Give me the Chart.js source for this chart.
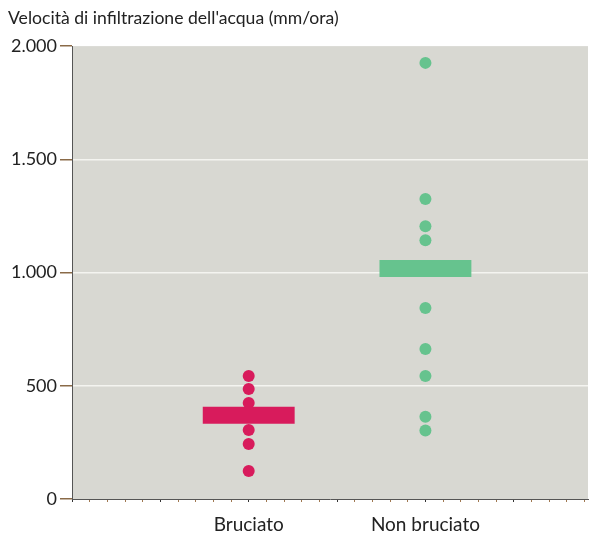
<!DOCTYPE html>
<html>
<head>
<meta charset="utf-8">
<script src="https://cdn.jsdelivr.net/npm/chart.js@4.4.0/dist/chart.umd.min.js"></script>
<style>
  html, body { margin: 0; padding: 0; background: #fff; }
  #wrap { width: 592px; height: 533px; }
</style>
</head>
<body>
<div id="wrap"><canvas id="chart" width="592" height="533"></canvas></div>
<script>
let groups = ['Bruciato', 'Non bruciato'];
let groupPos = [2, 4];
let bruciato = [543, 486, 424, 305, 243, 124];
let nonBruciato = [1926, 1325, 1205, 1143, 843, 662, 543, 363, 303];
let means = [370, 1018];
let yTicks = [0, 500, 1000, 1500, 2000];

let pink = '#d81b5c';
let green = '#66c38e';
let halfW = 0.52;

function fmt(v) {
  return String(v).replace(/\B(?=(\d{3})+(?!\d))/g, '.');
}

let plotBg = {
  id: 'plotBg',
  beforeDraw(chart) {
    let a = chart.chartArea;
    let c = chart.ctx;
    c.save();
    c.fillStyle = '#d8d8d2';
    c.fillRect(a.left, a.top, a.right - a.left, a.bottom - a.top);
    c.restore();
  }
};

let ctx = document.getElementById('chart').getContext('2d');

let myChart = new Chart(ctx, {
  type: 'scatter',
  data: {
    datasets: [
      {
        type: 'line',
        data: [{x: groupPos[0] - halfW, y: means[0]}, {x: groupPos[0] + halfW, y: means[0]}],
        borderColor: pink,
        borderWidth: 17,
        borderCapStyle: 'butt',
        pointRadius: 0
      },
      {
        type: 'line',
        data: [{x: groupPos[1] - halfW, y: means[1]}, {x: groupPos[1] + halfW, y: means[1]}],
        borderColor: green,
        borderWidth: 17,
        borderCapStyle: 'butt',
        pointRadius: 0
      },
      {
        data: bruciato.map(v => ({x: groupPos[0], y: v})),
        backgroundColor: pink,
        borderWidth: 0,
        pointRadius: 6
      },
      {
        data: nonBruciato.map(v => ({x: groupPos[1], y: v})),
        backgroundColor: green,
        borderWidth: 0,
        pointRadius: 6
      }
    ]
  },
  options: {
    responsive: false,
    animation: false,
    layout: { autoPadding: false, padding: { left: 8, right: 4, top: 0, bottom: 0 } },
    plugins: {
      legend: { display: false },
      tooltip: { enabled: false },
      title: {
        display: true,
        text: "Velocità di infiltrazione dell'acqua (mm/ora)",
        align: 'start',
        color: '#222',
        font: { family: 'Lato', size: 17.6, weight: 'normal' },
        padding: { top: 8, bottom: 17 }
      }
    },
    scales: {
      x: {
        type: 'linear',
        min: 0,
        max: 5.84,
        afterFit(s) { s.height = 34; s.paddingLeft = 0; s.paddingRight = 0; },
        afterBuildTicks(s) {
          let t = [];
          for (let i = 0; i <= 29; i++) t.push({value: i * 0.2});
          s.ticks = t;
        },
        border: { color: '#555', width: 1 },
        grid: {
          drawOnChartArea: false,
          tickLength: 3,
          tickColor: (c) => (Math.abs(c.tick.value - Math.round(c.tick.value)) < 1e-6 ? '#333' : '#a07850')
        },
        ticks: {
          autoSkip: false,
          maxRotation: 0,
          padding: 11,
          color: '#222',
          font: { family: 'Lato', size: 19 },
          callback: (v) => {
            for (let i = 0; i < groupPos.length; i++) {
              if (Math.abs(v - groupPos[i]) < 1e-6) return groups[i];
            }
            return '';
          }
        }
      },
      y: {
        min: 0,
        max: 2000,
        afterFit(s) { s.width = 64; },
        afterBuildTicks(s) { s.ticks = yTicks.map(v => ({value: v})); },
        border: { color: '#555', width: 1 },
        grid: {
          color: (c) => (c.tick.value === 0 || c.tick.value === 2000 ? 'rgba(0,0,0,0)' : '#f4f4f0'),
          lineWidth: 1.5,
          tickLength: 12,
          tickColor: '#8a6a48'
        },
        ticks: {
          padding: 3,
          color: '#222',
          font: { family: 'Lato', size: 18 },
          callback: (v) => fmt(v)
        }
      }
    }
  },
  plugins: [plotBg]
});
</script>
</body>
</html>
